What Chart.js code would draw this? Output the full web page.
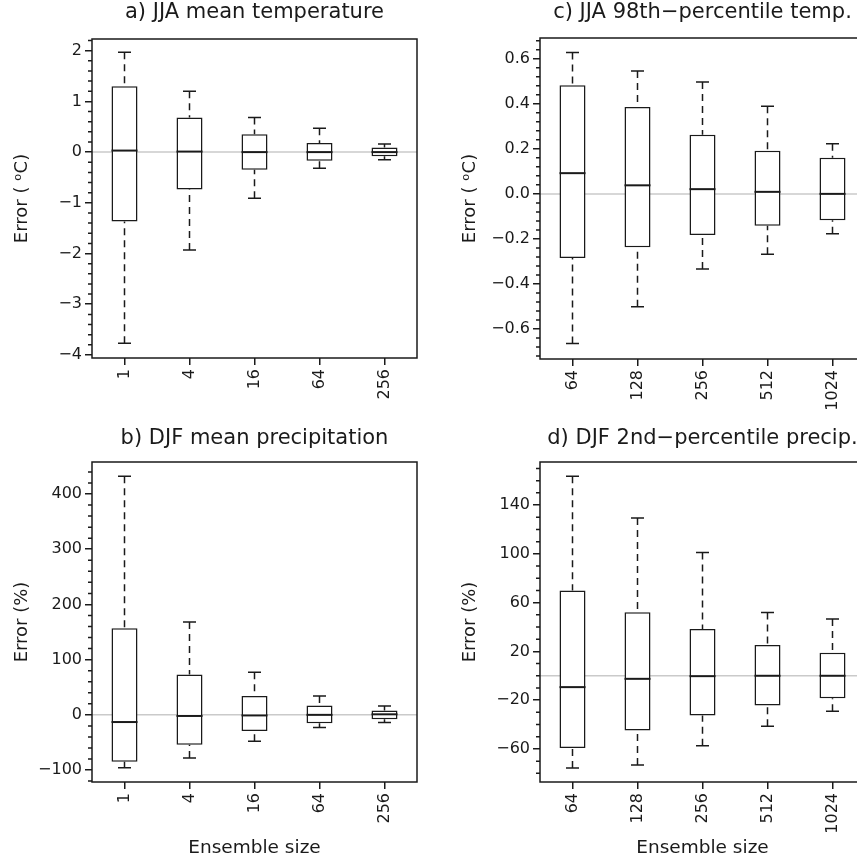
<!DOCTYPE html>
<html>
<head>
<meta charset="utf-8">
<script src="https://cdn.jsdelivr.net/npm/chart.js@4.4.1/dist/chart.umd.min.js"></script>
<style>
  body { margin: 0; background: #fff; width: 857px; height: 863px; overflow: hidden; position: relative; }
  canvas { position: absolute; }
</style>
</head>
<body>
<canvas id="graficoA" width="428" height="420" style="left:0;top:0"></canvas>
<canvas id="graficoC" width="428" height="420" style="left:448px;top:0"></canvas>
<canvas id="graficoB" width="428" height="443" style="left:0;top:420px"></canvas>
<canvas id="graficoD" width="428" height="443" style="left:448px;top:420px"></canvas>
<script>
// dimensioni dell'ensemble
const dimensioniMedie = ['1', '4', '16', '64', '256'];
const dimensioniEstremi = ['64', '128', '256', '512', '1024'];

// a) JJA mean temperature
const aMin = [-3.77, -1.93, -0.91, -0.32, -0.15];
const aQ1 = [-1.37, -0.74, -0.35, -0.17, -0.08];
const aMed = [0.03, 0.01, 0.0, 0.0, 0.0];
const aQ3 = [1.30, 0.68, 0.35, 0.18, 0.09];
const aMax = [1.97, 1.20, 0.68, 0.47, 0.16];
const aLimiti = [-4.06, 2.23];
const aTacche = [-4, -3, -2, -1, 0, 1, 2];

// b) DJF mean precipitation
const bMin = [-96, -78, -48, -23, -14];
const bQ1 = [-85, -54, -29, -15, -8];
const bMed = [-13, -2, -1, 0, 1];
const bQ3 = [157, 73, 34, 17, 8];
const bMax = [432, 168, 77, 34, 16];
const bLimiti = [-121.6, 458];
const bTacche = [-100, 0, 100, 200, 300, 400];

// c) JJA 98th-percentile temp.
const cMin = [-0.664, -0.501, -0.334, -0.268, -0.177];
const cQ1 = [-0.285, -0.237, -0.183, -0.142, -0.117];
const cMed = [0.092, 0.038, 0.021, 0.009, 0.0];
const cQ3 = [0.482, 0.386, 0.263, 0.192, 0.160];
const cMax = [0.628, 0.545, 0.497, 0.389, 0.223];
const cLimiti = [-0.733, 0.692];
const cTacche = [-0.6, -0.4, -0.2, 0.0, 0.2, 0.4, 0.6];

// d) DJF 2nd-percentile precip.
const dMin = [-75.6, -73.2, -57.3, -41.4, -29.0];
const dQ1 = [-59.2, -44.9, -32.6, -24.4, -18.4];
const dMed = [-9.3, -2.5, -0.3, 0.0, 0.0];
const dQ3 = [69.9, 52.1, 38.4, 25.2, 18.9];
const dMax = [163.6, 129.3, 101.1, 51.8, 46.6];
const dLimiti = [-87.1, 175.3];
const dTacche = [-60, -20, 20, 60, 100, 140];

const NERO = '#1a1a1a';
Chart.defaults.font.family = '"DejaVu Sans", sans-serif';
Chart.defaults.color = NERO;

function formatta(valore, decimali)
{
  return valore.toFixed(decimali).replace('-', '\u2212');
}

function creaGrafico(id, etichette, minimi, q1, mediane, q3, massimi, limiti, tacche, passo, decimali, titolo, titoloY, titoloX, spazi)
{
  // baffi, mediane, linea dello zero, cornice e tacche minori
  const scatole = {
    id: 'scatole',
    beforeDatasetsDraw(chart) {
      const {ctx, chartArea, scales} = chart;
      const y0 = scales.y.getPixelForValue(0);
      ctx.save();
      ctx.strokeStyle = '#cacaca';
      ctx.lineWidth = 1.5;
      ctx.beginPath();
      ctx.moveTo(chartArea.left, y0);
      ctx.lineTo(chartArea.right, y0);
      ctx.stroke();
      ctx.restore();
    },
    afterDatasetsDraw(chart) {
      const {ctx, scales} = chart;
      const barre = chart.getDatasetMeta(0).data;
      ctx.save();
      ctx.strokeStyle = NERO;
      barre.forEach((barra, i) => {
        const x = barra.x;
        const w = barra.width;
        const yMin = scales.y.getPixelForValue(minimi[i]);
        const yQ1 = scales.y.getPixelForValue(q1[i]);
        const yMed = scales.y.getPixelForValue(mediane[i]);
        const yQ3 = scales.y.getPixelForValue(q3[i]);
        const yMax = scales.y.getPixelForValue(massimi[i]);

        ctx.lineWidth = 1.5;
        ctx.setLineDash([7, 5]);
        ctx.beginPath();
        ctx.moveTo(x, yMax); ctx.lineTo(x, yQ3);
        ctx.moveTo(x, yMin); ctx.lineTo(x, yQ1);
        ctx.stroke();
        ctx.setLineDash([]);

        ctx.beginPath();
        ctx.moveTo(x - w / 4, yMax); ctx.lineTo(x + w / 4, yMax);
        ctx.moveTo(x - w / 4, yMin); ctx.lineTo(x + w / 4, yMin);
        ctx.stroke();

        ctx.lineWidth = 2;
        ctx.beginPath();
        ctx.moveTo(x - w / 2, yMed); ctx.lineTo(x + w / 2, yMed);
        ctx.stroke();
      });
      ctx.restore();
    },
    afterDraw(chart) {
      const {ctx, chartArea, scales} = chart;
      ctx.save();
      ctx.strokeStyle = NERO;
      ctx.lineWidth = 1.5;
      ctx.strokeRect(chartArea.left, chartArea.top, chartArea.width, chartArea.height);

      const primo = Math.ceil(limiti[0] / passo - 1e-6);
      const ultimo = Math.floor(limiti[1] / passo + 1e-6);
      ctx.beginPath();
      for (let k = primo; k <= ultimo; k++) {
        const v = k * passo;
        if (tacche.some(t => Math.abs(t - v) < passo / 100)) continue;
        const py = scales.y.getPixelForValue(v);
        ctx.moveTo(chartArea.left - 4, py);
        ctx.lineTo(chartArea.left, py);
      }
      ctx.stroke();
      ctx.restore();
    }
  };

  const scatola = q1.map((v, i) => [v, q3[i]]);

  return new Chart(document.getElementById(id), {
    type: 'bar',
    data: {
      labels: etichette,
      datasets: [{
        data: scatola,
        backgroundColor: '#ffffff',
        borderColor: NERO,
        borderWidth: 1.5,
        borderSkipped: false,
        barPercentage: 0.4,
        categoryPercentage: 1.0
      }]
    },
    options: {
      responsive: false,
      animation: false,
      layout: { padding: { left: 0, right: 11, top: 0, bottom: 0 } },
      plugins: {
        legend: { display: false },
        tooltip: { enabled: false },
        title: {
          display: true,
          text: titolo,
          fullSize: false,
          color: NERO,
          font: { size: 21, weight: 'normal', lineHeight: 1.2 },
          padding: { top: spazi.titoloSopra, bottom: spazi.titoloSotto }
        }
      },
      scales: {
        x: {
          offset: true,
          grid: { display: true, offset: false, drawOnChartArea: false, drawTicks: true, tickLength: 7, color: NERO, tickColor: NERO, lineWidth: 1.5, tickWidth: 1.5 },
          border: { display: false },
          ticks: { minRotation: 90, maxRotation: 90, autoSkip: false, padding: 4, font: { size: 16 } },
          title: { display: titoloX != null, text: titoloX || '', font: { size: 18.5 }, padding: { top: 0, bottom: spazi.titoloX } },
          afterFit: s => { s.height = spazi.altezzaX; }
        },
        y: {
          min: limiti[0],
          max: limiti[1],
          afterBuildTicks: s => { s.ticks = tacche.map(v => ({ value: v })); },
          grid: { display: true, drawOnChartArea: false, drawTicks: true, tickLength: 7, color: NERO, tickColor: NERO, lineWidth: 1.5, tickWidth: 1.5 },
          border: { display: false },
          ticks: { padding: 3, font: { size: 16 }, callback: v => formatta(v, decimali) },
          title: { display: true, text: titoloY, font: { size: 18 }, padding: { top: 12, bottom: 0 } },
          afterFit: s => { s.width = 92; }
        }
      }
    },
    plugins: [scatole]
  });
}

creaGrafico('graficoA', dimensioniMedie, aMin, aQ1, aMed, aQ3, aMax, aLimiti, aTacche, 0.2, 0,
  'a) JJA mean temperature', 'Error ( \u1D52C)', null,
  { titoloSopra: 0, titoloSotto: 13.8, altezzaX: 62, titoloX: 0 });

creaGrafico('graficoC', dimensioniEstremi, cMin, cQ1, cMed, cQ3, cMax, cLimiti, cTacche, 0.04, 1,
  'c) JJA 98th\u2212percentile temp.', 'Error ( \u1D52C)', null,
  { titoloSopra: 0, titoloSotto: 12.8, altezzaX: 61, titoloX: 0 });

creaGrafico('graficoB', dimensioniMedie, bMin, bQ1, bMed, bQ3, bMax, bLimiti, bTacche, 20, 0,
  'b) DJF mean precipitation', 'Error (%)', 'Ensemble size',
  { titoloSopra: 6, titoloSotto: 10.8, altezzaX: 81, titoloX: 4 });

creaGrafico('graficoD', dimensioniEstremi, dMin, dQ1, dMed, dQ3, dMax, dLimiti, dTacche, 10, 0,
  'd) DJF 2nd\u2212percentile precip.', 'Error (%)', 'Ensemble size',
  { titoloSopra: 6, titoloSotto: 10.8, altezzaX: 81, titoloX: 4 });
</script>
</body>
</html>
